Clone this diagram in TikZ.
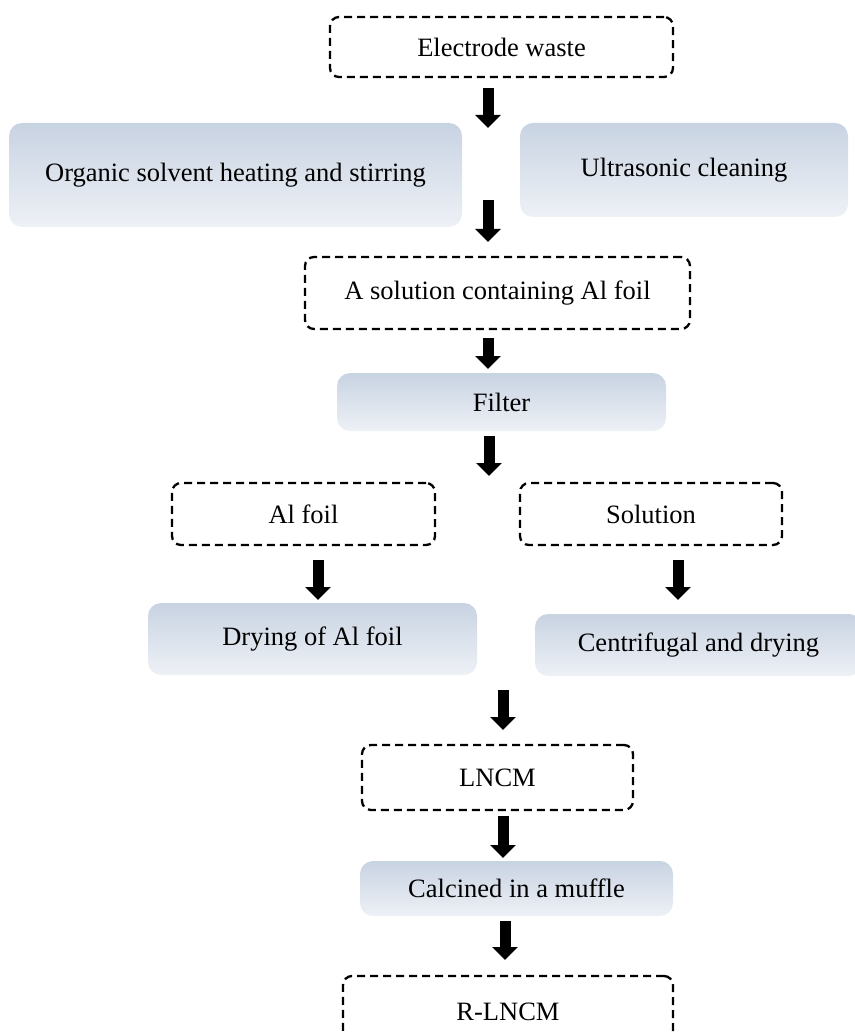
\documentclass[tikz,border=0pt]{standalone}
\usepackage{fontspec}
\setmainfont{Liberation Serif}
\usetikzlibrary{arrows.meta, shapes.geometric, positioning}

\definecolor{boxtop}{RGB}{200,211,226}
\definecolor{boxbot}{RGB}{238,241,246}

\begin{document}
\begin{tikzpicture}[
    x=1pt, y=-1pt,
    font=\fontsize{26.5}{31}\selectfont,
    stage/.style={rectangle, rounded corners=9pt, draw=black, line width=2.3pt,
                  dash pattern=on 8pt off 5pt, fill=white, inner sep=0pt},
    process/.style={rectangle, rounded corners=13pt, top color=boxtop, bottom color=boxbot,
                    draw=none, inner sep=0pt},
    arrow/.style={line width=11pt, -{Triangle[width=25pt,length=13pt]}}
]
\useasboundingbox (0,0) rectangle (854,1032);
\node (waste)  [stage, minimum width=343pt, minimum height=60pt] at (501.5,47) {Electrode waste};
\node (organic)[process, minimum width=453pt, minimum height=104pt] at (235.5,175) {Organic solvent heating and stirring};
\node (ultra)  [process, minimum width=328pt, minimum height=94pt] at (684,170) {Ultrasonic cleaning};
\node (alsol)  [stage, minimum width=385pt, minimum height=72pt] at (497.5,293) {A solution containing Al foil};
\node (filter) [process, minimum width=329pt, minimum height=58pt] at (501.5,402) {Filter};
\node (foil)   [stage, minimum width=263pt, minimum height=62pt] at (303.5,514) {Al foil};
\node (sol)    [stage, minimum width=262pt, minimum height=62pt] at (651,514) {Solution};
\node (dry)    [process, minimum width=329pt, minimum height=72pt] at (312.5,639) {Drying of Al foil};
\node (centri) [process, minimum width=327pt, minimum height=62pt] at (698.5,645) {Centrifugal and drying};
\node (lncm)   [stage, minimum width=271pt, minimum height=65pt] at (497.5,777.5) {LNCM};
\node (calc)   [process, minimum width=313pt, minimum height=55pt] at (516.5,888.5) {Calcined in a muffle};
\node (rlncm)  [stage, minimum width=330pt, minimum height=72pt] at (508,1012) {R-LNCM};

% arrow ends
\coordinate (a1s) at (488,88);   \coordinate (a1e) at (488,128);
\coordinate (a2s) at (488,200);  \coordinate (a2e) at (488,242);
\coordinate (a3s) at (488,338);  \coordinate (a3e) at (488,369);
\coordinate (a4s) at (489,436);  \coordinate (a4e) at (489,476);
\coordinate (a5s) at (318,560);  \coordinate (a5e) at (318,600);
\coordinate (a6s) at (678,560);  \coordinate (a6e) at (678,600);
\coordinate (a7s) at (503,690);  \coordinate (a7e) at (503,730);
\coordinate (a8s) at (503,816);  \coordinate (a8e) at (503,858);
\coordinate (a9s) at (505,921);  \coordinate (a9e) at (505,960);
\foreach \n in {1,...,9}
  \draw [arrow] (a\n s) -- (a\n e);
\end{tikzpicture}
\end{document}
